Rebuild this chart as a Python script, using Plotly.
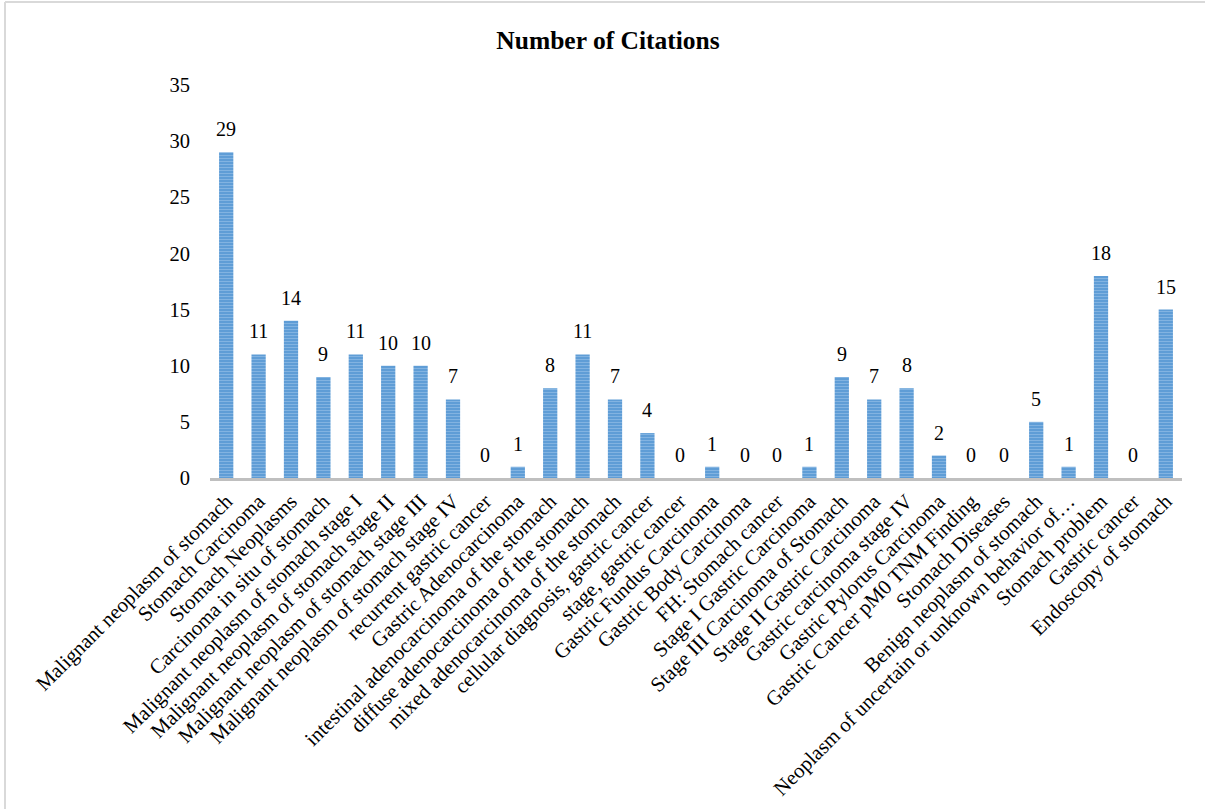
import plotly.graph_objects as go

categories = [
    "Malignant neoplasm of stomach",
    "Stomach Carcinoma",
    "Stomach Neoplasms",
    "Carcinoma in situ of stomach",
    "Malignant neoplasm of stomach stage I",
    "Malignant neoplasm of stomach stage II",
    "Malignant neoplasm of stomach stage III",
    "Malignant neoplasm of stomach stage IV",
    "recurrent gastric cancer",
    "Gastric Adenocarcinoma",
    "intestinal adenocarcinoma of the stomach",
    "diffuse adenocarcinoma of the stomach",
    "mixed adenocarcinoma of the stomach",
    "cellular diagnosis, gastric cancer",
    "stage, gastric cancer",
    "Gastric Fundus Carcinoma",
    "Gastric Body Carcinoma",
    "FH: Stomach cancer",
    "Stage I Gastric Carcinoma",
    "Stage III Carcinoma of Stomach",
    "Stage II Gastric Carcinoma",
    "Gastric carcinoma stage IV",
    "Gastric Pylorus Carcinoma",
    "Gastric Cancer pM0 TNM Finding",
    "Stomach Diseases",
    "Benign neoplasm of stomach",
    "Neoplasm of uncertain or unknown behavior of…",
    "Stomach problem",
    "Gastric cancer",
    "Endoscopy of stomach",
]
citations = [29, 11, 14, 9, 11, 10, 10, 7, 0, 1, 8, 11, 7, 4, 0, 1, 0, 0, 1, 9, 7, 8, 2, 0, 0, 5, 1, 18, 0, 15]

title_text = "Number of Citations"
y_ticks = [0, 5, 10, 15, 20, 25, 30, 35]

W, H = 1205, 809
ML, MR, MT, MB = 210, 23, 85, 331
FONT = "Liberation Serif, Times New Roman, serif"

fig = go.Figure()
fig.add_trace(go.Bar(
    x=categories,
    y=citations,
    marker=dict(
        color="#5b9bd5",
        line=dict(width=0),
        pattern=dict(shape="-", fgcolor="#a9cbee", size=3, solidity=0.4, fillmode="overlay"),
    ),
    showlegend=False,
))

for c, v in zip(categories, citations):
    fig.add_annotation(
        x=c, y=v, text=str(v), showarrow=False,
        yanchor="bottom", yshift=10,
        font=dict(family=FONT, size=20, color="#000000"),
    )

pw = W - ML - MR
ph = H - MT - MB
def px_x(p):
    return (p - ML) / pw
def px_y(p):
    return (H - MB - p) / ph

fig.add_shape(type="line", xref="paper", yref="paper",
              x0=px_x(5), x1=px_x(5), y0=px_y(2), y1=px_y(809),
              line=dict(color="#d9d9d9", width=2))
fig.add_shape(type="line", xref="paper", yref="paper",
              x0=px_x(5), x1=px_x(1205), y0=px_y(2), y1=px_y(2),
              line=dict(color="#d9d9d9", width=2))

fig.update_layout(
    width=W, height=H,
    margin=dict(l=ML, r=MR, t=MT, b=MB, autoexpand=False),
    paper_bgcolor="white", plot_bgcolor="white",
    bargap=0.56,
    title=dict(text="<b>" + title_text + "</b>", x=608 / W, xref="container", xanchor="center",
               y=1 - 40 / H, yref="container", yanchor="middle",
               font=dict(family=FONT, size=25.5, color="#000000")),
    font=dict(family=FONT, size=20, color="#000000"),
)
fig.update_xaxes(
    tickangle=-45, showline=True, linecolor="#bfbfbf", linewidth=3,
    ticks="", showgrid=False, automargin=False,
    tickfont=dict(family=FONT, size=20.8, color="#000000"),
)
fig.update_yaxes(
    range=[0, 35], tickvals=y_ticks, showgrid=False, zeroline=False,
    showline=False, ticks="", automargin=False, ticklabelstandoff=19,
    tickfont=dict(family=FONT, size=20.5, color="#000000"),
)

fig.write_html("out.html")
